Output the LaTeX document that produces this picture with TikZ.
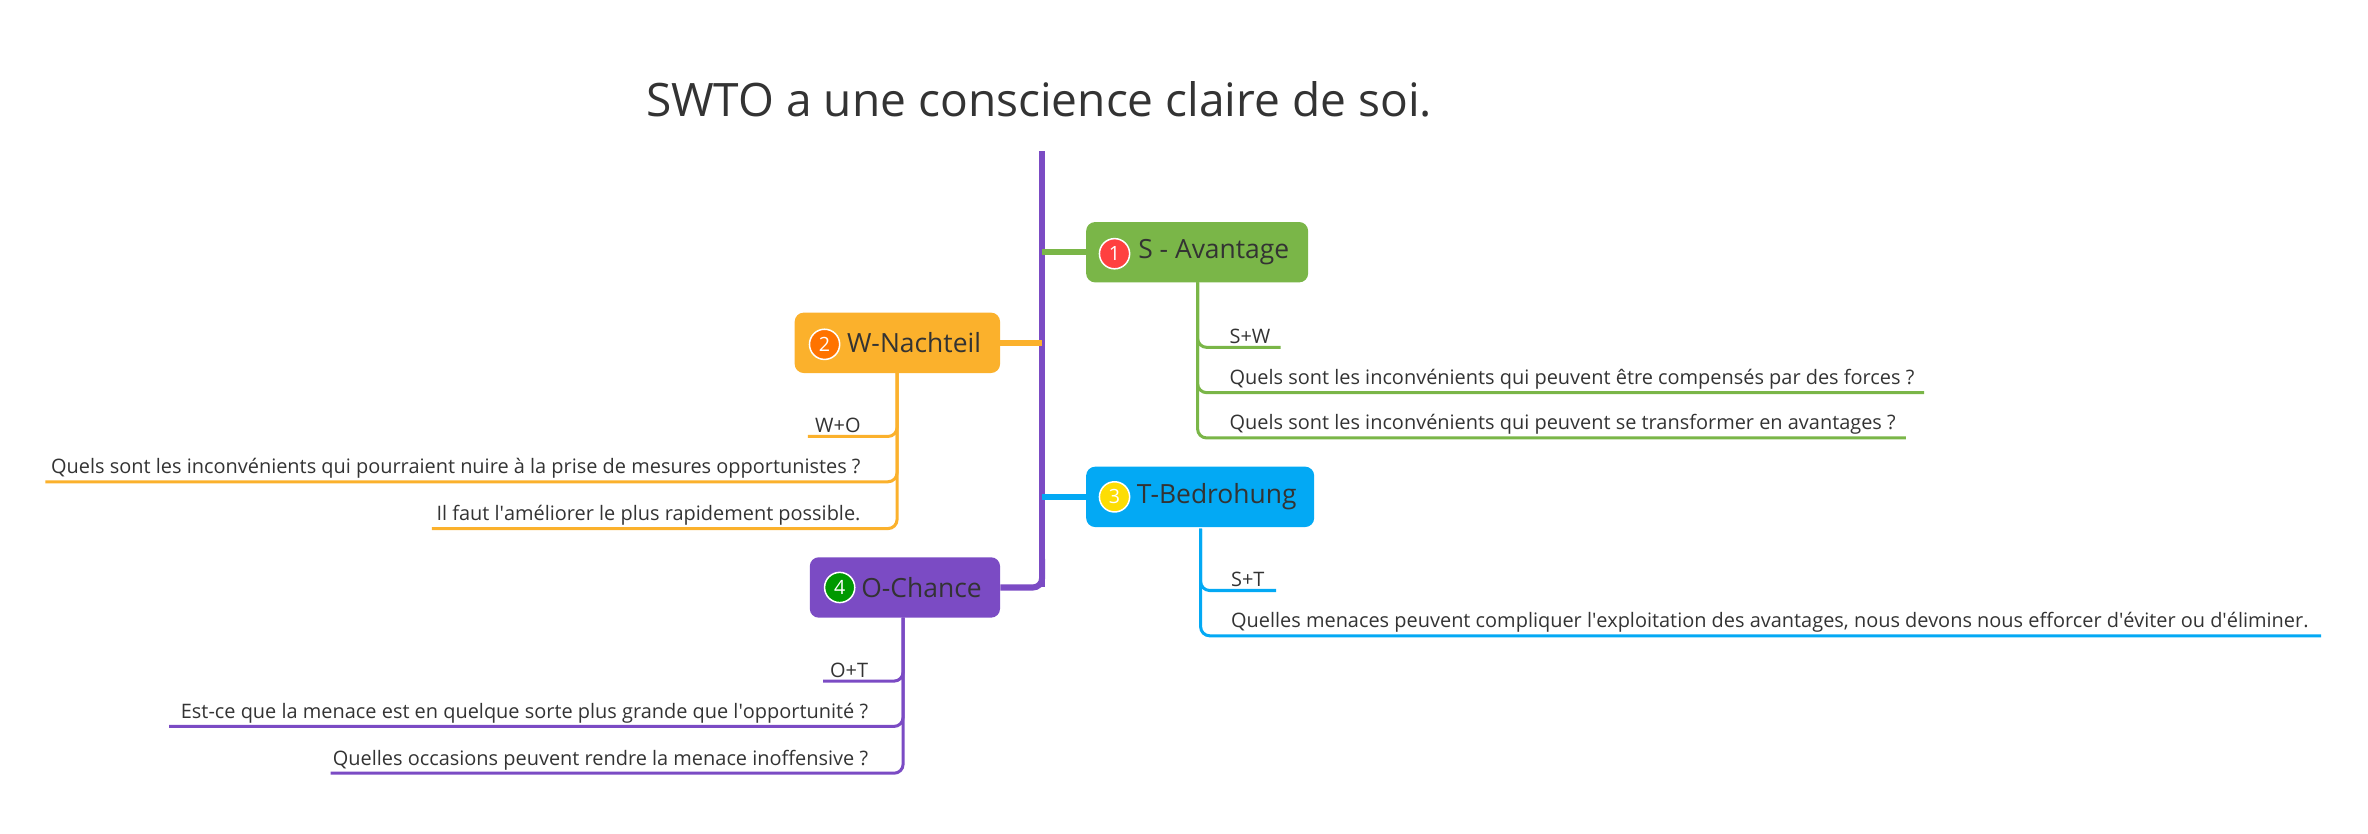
\documentclass[tikz,border=0pt]{standalone}
\usepackage{fontspec}
\setmainfont{Open Sans}
\usetikzlibrary{positioning}
\definecolor{sgreen}{HTML}{7AB648}
\definecolor{worange}{HTML}{FBB12C}
\definecolor{tblue}{HTML}{03A9F4}
\definecolor{opurple}{HTML}{7B4BC4}
\definecolor{txt}{HTML}{333333}
\newcommand{\apos}{\textquotesingle}
\tikzset{
  topic/.style={rounded corners=6pt, minimum height=40pt, inner xsep=4pt, font=\fontsize{17.5}{17.5}\selectfont, text=txt, anchor=west},
  num/.style={circle, draw=white, line width=1pt, inner sep=0pt, minimum size=20pt, text=white, font=\fontsize{13}{13}\selectfont},
  leaf/.style={font=\fontsize{13.2}{13.2}\selectfont, text=txt, inner sep=2pt},
  branch/.style={line width=2pt, rounded corners=6pt}
}
\begin{document}
\begin{tikzpicture}[x=1pt,y=-1pt]
\useasboundingbox (0,0) rectangle (1568,552);
\node[font=\fontsize{30.5}{30.5}\selectfont, text=txt] (title) at (688,66) {SWTO a une conscience claire de soi.};
% trunk
\coordinate (top) at (690,100);
\coordinate (bot) at (690,389);
\draw[opurple, line width=4pt] (top) -- (bot);
% topics
\node[topic, fill=sgreen, minimum width=147pt] (S) at (719,167) {\hspace{22pt}S - Avantage};
\node[topic, fill=worange, minimum width=136pt] (W) at (526,227) {\hspace{22pt}W-Nachteil};
\node[topic, fill=tblue, minimum width=151pt] (T) at (719,329) {\hspace{22pt}T-Bedrohung};
\node[topic, fill=opurple, minimum width=126pt] (O) at (536,389) {\hspace{22pt}O-Chance};
\node[num, fill=red!75!white] (n1) at (738,168) {1};
\node[num, fill=orange!90!red] (n2) at (546,228) {2};
\node[num, fill=yellow!80!orange] (n3) at (738,329) {3};
\node[num, fill=green!60!black] (n4) at (556,389) {4};
\draw[sgreen, line width=4pt] (690,167) -- (S.west);
\draw[worange, line width=4pt] (690,227) -- (W.east);
\draw[tblue, line width=4pt] (690,329) -- (T.west);
\draw[opurple, line width=4pt, rounded corners=6pt] (690,370) |- (O.east);
% S leaves
\coordinate (s0) at (793,187);
\draw[sgreen, branch] (s0) |- (848,230) coordinate (s1);
\draw[sgreen, branch] (s0) |- (1274,260) coordinate (s2);
\draw[sgreen, branch] (s0) |- (1262,290) coordinate (s3);
\node[leaf, anchor=south west] at (812,230) {S+W};
\node[leaf, anchor=south west] at (812,260) {Quels sont les inconvénients qui peuvent être compensés par des forces ?};
\node[leaf, anchor=south west] at (812,290) {Quels sont les inconvénients qui peuvent se transformer en avantages ?};
% W leaves
\coordinate (w0) at (594,247);
\draw[worange, branch] (w0) |- (535,289) coordinate (w1);
\draw[worange, branch] (w0) |- (30,319) coordinate (w2);
\draw[worange, branch] (w0) |- (286,350) coordinate (w3);
\node[leaf, anchor=south east] at (572,289) {W+O};
\node[leaf, anchor=south east] at (572,319) {Quels sont les inconvénients qui pourraient nuire à la prise de mesures opportunistes ?};
\node[leaf, anchor=south east] at (572,350) {Il faut l\apos améliorer le plus rapidement possible.};
% T leaves
\coordinate (t0) at (795,350);
\draw[tblue, branch] (t0) |- (845,391) coordinate (t1);
\draw[tblue, branch] (t0) |- (1537,421) coordinate (t2);
\node[leaf, anchor=south west] at (813,391) {S+T};
\node[leaf, anchor=south west] at (813,421) {Quelles menaces peuvent compliquer l\apos exploitation des avantages, nous devons nous efforcer d\apos éviter ou d\apos éliminer.};
% O leaves
\coordinate (o0) at (598,409);
\draw[opurple, branch] (o0) |- (545,451) coordinate (o1);
\draw[opurple, branch] (o0) |- (112,481) coordinate (o2);
\draw[opurple, branch] (o0) |- (219,512) coordinate (o3);
\node[leaf, anchor=south east] at (577,451) {O+T};
\node[leaf, anchor=south east] at (577,481) {Est-ce que la menace est en quelque sorte plus grande que l\apos opportunité ?};
\node[leaf, anchor=south east] at (577,512) {Quelles occasions peuvent rendre la menace inoffensive ?};
\end{tikzpicture}
\end{document}
